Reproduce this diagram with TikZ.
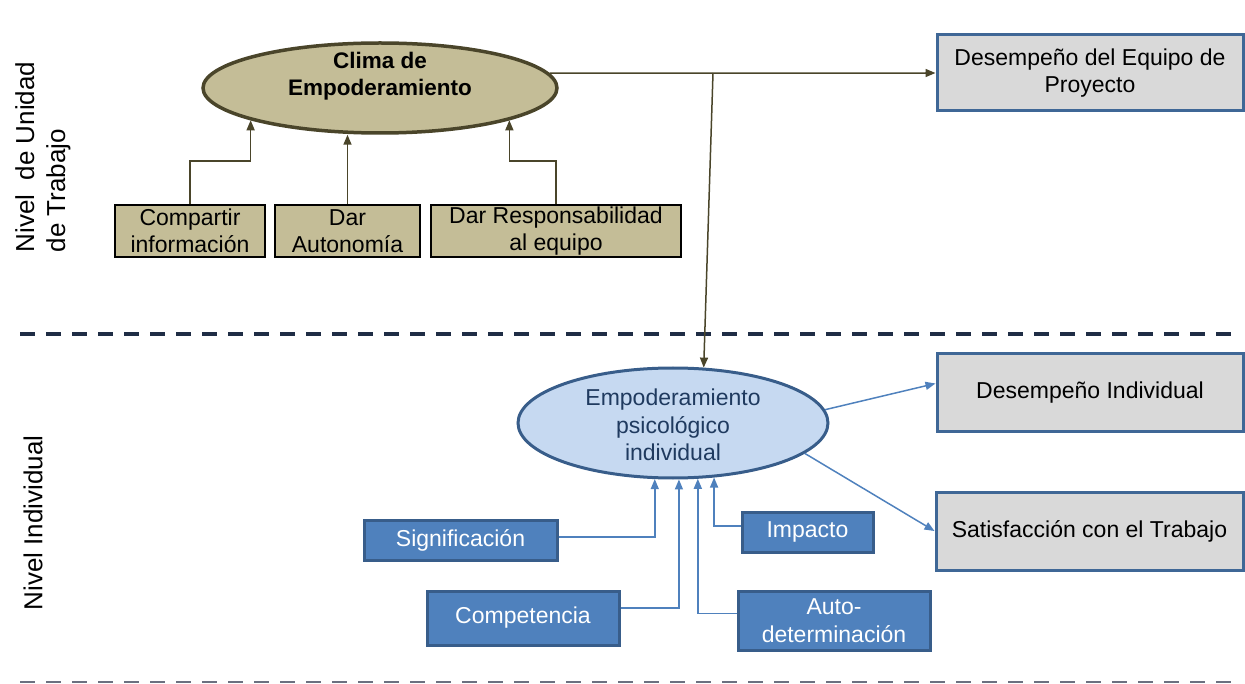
\documentclass[tikz,border=0pt]{standalone}
\usepackage{fontspec}
\setmainfont{Liberation Sans}
\usetikzlibrary{arrows.meta,shapes.geometric,calc}
\definecolor{tanfill}{HTML}{C4BD97}
\definecolor{olive}{HTML}{4A452A}
\definecolor{grayfill}{HTML}{D9D9D9}
\definecolor{grayborder}{HTML}{3F6796}
\definecolor{bluefill}{HTML}{4F81BD}
\definecolor{blueborder}{HTML}{385D8A}
\definecolor{ellfill}{HTML}{C6D9F1}
\definecolor{elltext}{HTML}{1F3A5F}
\definecolor{navydash}{HTML}{1F2D45}
\definecolor{graydash}{HTML}{6B7080}
\begin{document}
\begin{tikzpicture}[x=1pt,y=-1pt,
  txt/.style={font=\fontsize{23}{27.5}\selectfont, align=center, inner sep=0pt},
  tanbox/.style={txt, rectangle, draw=black, line width=1.5pt, fill=tanfill},
  graybox/.style={txt, rectangle, draw=grayborder, line width=3pt, fill=grayfill},
  bluebox/.style={txt, rectangle, draw=blueborder, line width=3pt, fill=bluefill, text=white},
  olivearrow/.style={draw=olive, line width=1.5pt, -{Triangle[length=10pt,width=8pt]}, fill=none},
  bluearrow/.style={draw=bluefill, line width=1.5pt, -{Triangle[length=10pt,width=8pt]}},
  sidelabel/.style={font=\fontsize{26}{31}\selectfont, rotate=90, align=left, inner sep=0pt}
]
\useasboundingbox (0,0) rectangle (1245,684);

% level separators
\draw[navydash, line width=3.5pt, dash pattern=on 15pt off 11pt] (20,334) -- (1240,334);
\draw[graydash, line width=2pt, dash pattern=on 15pt off 11pt] (20,682) -- (1240,682);

% side labels
\node[sidelabel] (lblunidad) at (43,157) {Nivel\ \ de Unidad\\de Trabajo};
\node[sidelabel] (lblindiv) at (33,523) {Nivel Individual};

% top level
\node[ellipse, draw=olive, line width=3.5pt, fill=tanfill, minimum width=354pt, minimum height=90pt, inner sep=0pt] (clima) at (380,88) {};
\node[txt, font=\fontsize{22.5}{26.5}\selectfont\bfseries] (climatxt) at (380,76) {Clima de\\Empoderamiento};

\node[tanbox, minimum width=150pt, minimum height=52pt] (comp) at (190,231) {Compartir\\información};
\node[tanbox, minimum width=145pt, minimum height=52pt] (dar) at (347.5,231) {Dar\\Autonomía};
\node[tanbox, minimum width=250pt, minimum height=52pt] (resp) at (556,231) {Dar Responsabilidad\\al equipo};

\node[graybox, minimum width=306pt, minimum height=76pt] (equipo) at (1090,73) {Desempeño del Equipo de\\Proyecto};

\draw[olivearrow] (comp.north) -- (comp.north |- 0,161) -| (clima.194);
\draw[olivearrow] (dar.north) -- (dar.north |- clima.south);
\draw[olivearrow] (resp.north) -- (resp.north |- 0,161) -| (clima.346);

\coordinate (split) at (713,73);
\draw[olivearrow] (clima.5) -- (equipo.west);

% individual level
\node[ellipse, draw=blueborder, line width=3pt, fill=ellfill, minimum width=310pt, minimum height=110pt, inner sep=0pt] (emp) at (673,423) {};
\node[txt, text=elltext] (emptxt) at (673,425) {Empoderamiento\\psicológico\\individual};

\draw[olivearrow] (split) -- (emp.61);

\node[graybox, minimum width=306pt, minimum height=77pt] (desind) at (1090,392.5) {Desempeño Individual};
\node[graybox, minimum width=307pt, minimum height=78pt] (satis) at (1089.5,531) {Satisfacción con el Trabajo};

\draw[bluearrow] (emp.5) -- ([yshift=9pt]desind.west);
\draw[bluearrow] (emp.-13) -- (satis.west);

\node[bluebox, minimum width=193pt, minimum height=40pt] (sig) at (460.5,540) {Significación};
\node[bluebox, minimum width=131pt, minimum height=40pt] (imp) at (807.5,532) {Impacto};
\node[bluebox, minimum width=192pt, minimum height=54pt] (compet) at (523,618) {Competencia};
\node[bluebox, minimum width=192pt, minimum height=59pt] (auto) at (834,620.5) {Auto-\\determinación};

\draw[bluearrow] ([yshift=3pt]sig.east) -| (emp.252);
\draw[bluearrow] ([yshift=10pt]compet.east) -| (emp.276);
\draw[bluearrow] ([yshift=7pt]auto.west) -| (emp.294);
\draw[bluearrow] ([yshift=6pt]imp.west) -| (emp.307);
\end{tikzpicture}
\end{document}
